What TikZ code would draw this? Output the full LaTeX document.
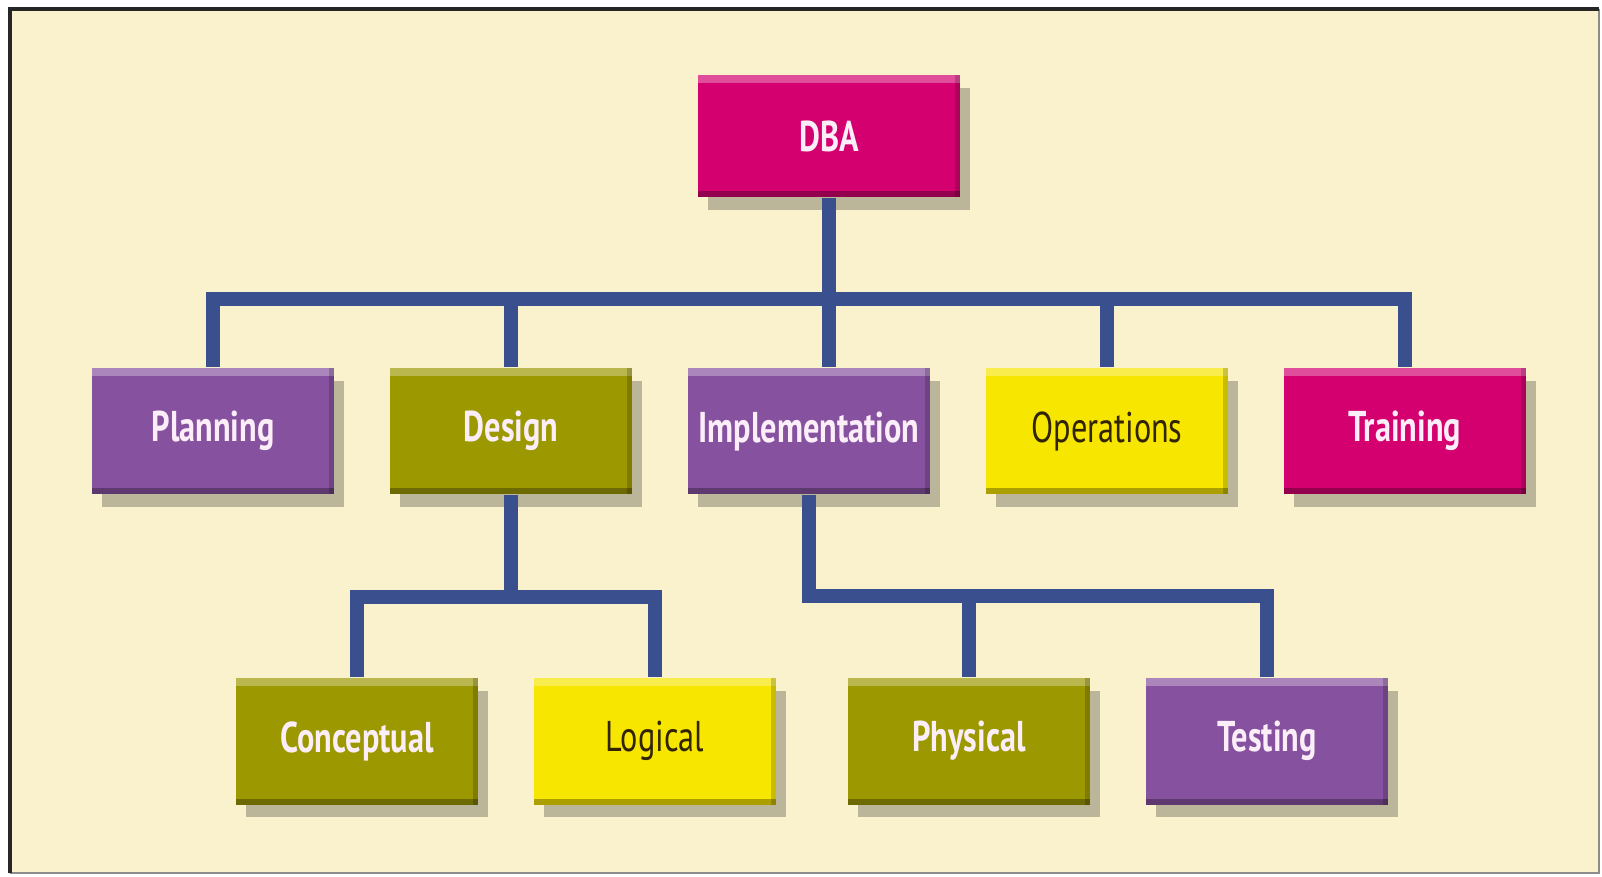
\documentclass[tikz,border=0pt]{standalone}
\usepackage{fontspec}
\newfontfamily\boxfont[FakeStretch=0.75]{PT Sans}
\usetikzlibrary{shadows,positioning}

\definecolor{dbapink}{RGB}{212,0,112}
\definecolor{dbapurple}{RGB}{134,82,160}
\definecolor{dbaolive}{RGB}{156,152,0}
\definecolor{dbayellow}{RGB}{246,230,0}
\definecolor{paper}{RGB}{250,242,205}
\definecolor{linkblue}{RGB}{58,80,142}
\definecolor{lighttext}{RGB}{252,238,248}
\definecolor{darktext}{RGB}{50,36,0}

\tikzset{
  bevel/.style={path picture={
    \fill[white,opacity=.3] (path picture bounding box.north west) rectangle ([yshift=-0.16cm]path picture bounding box.north east);
    \fill[black,opacity=.3] ([yshift=0.12cm]path picture bounding box.south west) rectangle (path picture bounding box.south east);
    \fill[black,opacity=.18] ([xshift=-0.1cm]path picture bounding box.north east) rectangle (path picture bounding box.south east);
  }},
  box/.style={rectangle, minimum width=4.86cm, minimum height=2.54cm, inner sep=0pt,
    font=\boxfont\fontsize{24.5}{27}\selectfont\bfseries, text=lighttext, bevel,
    drop shadow={shadow xshift=0.2cm, shadow yshift=-0.26cm, fill=black, opacity=.25}},
  pinkbox/.style={box, fill=dbapink},
  purplebox/.style={box, fill=dbapurple},
  olivebox/.style={box, fill=dbaolive},
  yellowbox/.style={box, fill=dbayellow, text=darktext, font=\boxfont\fontsize{24.5}{27}\selectfont},
  link/.style={draw=linkblue, line width=0.28cm}
}

\begin{document}
\begin{tikzpicture}[x=0.02cm, y=-0.02cm]
    \useasboundingbox (0,0) rectangle (1602,876);
    \fill[white] (0,0) rectangle (1602,876);
    \fill[paper] (10,9) rectangle (1599,873);
    \draw[black!45, line width=0.05cm] (10,873) -- (1599,873) -- (1599,9);
    \draw[black!85, line width=0.07cm] (10,873) -- (10,9) -- (1599,9);

    % top level
    \node[pinkbox, minimum width=5.24cm, minimum height=2.46cm] (dba) at (829,136) {DBA};

    % second row
    \node[purplebox] (plan) at (213,431) {Planning};
    \node[olivebox] (design) at (511,431) {Design};
    \node[purplebox] (impl) at (809,431) {Implementation};
    \node[yellowbox] (ops) at (1107,431) {Operations};
    \node[pinkbox] (train) at (1405,431) {Training};

    % third row
    \node[olivebox] (concept) at (357,741) {Conceptual};
    \node[yellowbox] (logical) at (655,741) {Logical};
    \node[olivebox] (phys) at (969,741) {Physical};
    \node[purplebox] (test) at (1267,741) {Testing};

    % connectors
    \coordinate (bus) at (0,299);
    \coordinate (dbus) at (0,597);
    \coordinate (ibus) at (0,596);
    \draw[link] (plan.north) -- (plan.north |- bus) -- (train.north |- bus) -- (train.north);
    \draw[link] (dba.south) -- (impl.north -| dba.south);
    \foreach \n in {design,ops}
        \draw[link] (\n.north) -- (\n.north |- bus);
    \draw[link] (design.south) -- (design.south |- dbus);
    \draw[link] (concept.north) -- (concept.north |- dbus) -- (logical.north |- dbus) -- (logical.north);
    \draw[link] (impl.south) -- (impl.south |- ibus) -- (test.north |- ibus) -- (test.north);
    \draw[link] (phys.north) -- (phys.north |- ibus);
\end{tikzpicture}
\end{document}
